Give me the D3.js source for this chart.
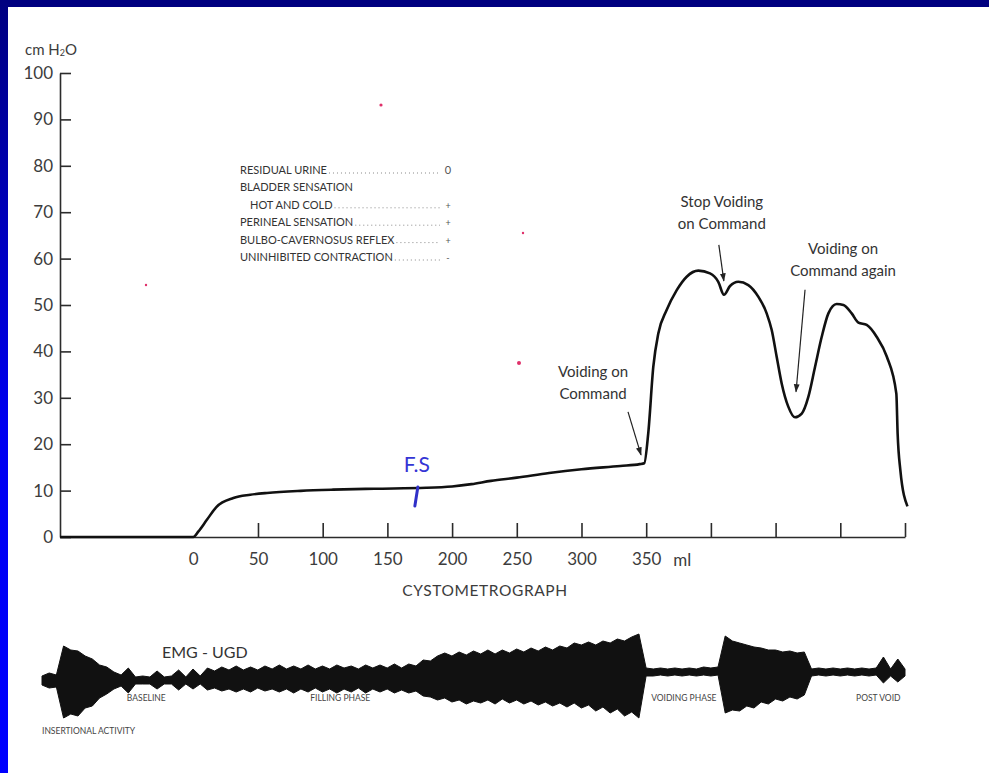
<!DOCTYPE html>
<html><head><meta charset="utf-8">
<script src="https://cdn.jsdelivr.net/npm/d3@7"></script>
<style>
html,body{margin:0;padding:0;background:#fff;overflow:hidden}
svg{display:block}
text{font-family:Lato,"Open Sans",sans-serif}
</style></head><body>
<svg id="c" width="989" height="773"></svg>
<script>
// ---------- DATA ----------
const yTicks = [0,10,20,30,40,50,60,70,80,90,100];
const xTickValues = [0,50,100,150,200,250,300,350,400,450,500,550];
const xTickLabels = ["0","50","100","150","200","250","300","350","","","",""];
const xUnit = "ml";
const yUnit = "cm H";
const xTitle = "CYSTOMETROGRAPH";

// cystometrogram: infused volume (ml) vs bladder pressure (cm H2O)
const volumeMl = [-103,-20,0,4,10.5,18,31,44,57,83,108,140,180,200,215,230,250,275,300,330,345,348.5,
  351.6,355.5,359.4,365.8,373.6,381.3,390.3,399.3,405.7,410.1,414.8,421.2,428.9,436.6,443.1,447,
  450.8,454.7,459.8,465,470.2,475.3,480.5,485.6,490.8,497.2,502.4,508.8,514,520.4,528.2,535.9,
  543.3,544.3,546.4,551.9];
const pressure = [0,0,0,1.2,3.7,6.5,8.4,9.1,9.5,9.95,10.2,10.4,10.6,10.9,11.4,12.1,12.8,13.8,14.6,15.3,15.7,15.9,
  22.4,36.7,43.9,48.9,53.2,56.1,57.4,56.8,55.0,52.2,54.1,55.0,54.3,51.8,48.2,44.6,
  38.9,33.1,28.1,25.8,26.6,30.2,36.7,43.1,48.2,50.2,50.0,48.2,46.2,45.7,43.1,38.9,
  30.9,22.3,14.4,6.6];

const checklistItems = ["RESIDUAL URINE","BLADDER SENSATION","HOT AND COLD","PERINEAL SENSATION","BULBO-CAVERNOSUS REFLEX","UNINHIBITED CONTRACTION"];
const checklistResults = ["0","","+","+","+","-"];
const checklistLevel = [0,0,1,0,0,0];

const annotationText = [["Voiding on","Command"],["Stop Voiding","on Command"],["Voiding on","Command again"]];
const annotationVolume = [346,410,465.8];
const annotationPressure = [17.7,55.2,31.3];

const handNote = "F.S";
const handNoteVolume = 172;

// EMG (urethral sphincter) envelope, one sample per second, arbitrary amplitude units
const emgTop = [1,4,2,31,27,26,21,18,12,10,5,2,9,0,1,0,6,0,1,7,0,8,1,9,6,10,7,11,7,10,
  7,11,8,12,8,11,8,12,8,11,8,12,9,11,8,12,9,12,9,13,9,13,11,17,16,21,24,21,25,22,
  26,23,27,23,27,24,28,25,29,26,30,27,31,29,34,32,35,32,36,34,38,36,40,43,9,8,9,8,9,8,
  9,8,10,9,10,41,36,34,32,30,29,27,27,25,26,24,25,8,9,8,9,8,9,8,9,8,9,20,8,18,8];
const emgBottom = [-8,-11,-10,-41,-37,-39,-31,-29,-21,-17,-12,-9,-16,-7,-7,-7,-12,-7,-7,-13,-7,-12,-7,-13,-11,-14,-12,-15,-12,-15,
  -11,-14,-12,-15,-12,-16,-12,-15,-11,-15,-12,-16,-12,-15,-11,-16,-12,-15,-12,-16,-13,-16,-14,-19,-20,-23,-21,-25,-23,-27,
  -24,-26,-23,-27,-22,-26,-23,-27,-24,-28,-25,-29,-26,-30,-26,-31,-28,-34,-30,-36,-32,-39,-35,-41,1,1,2,1,2,1,
  2,1,2,1,2,-36,-33,-34,-29,-31,-25,-27,-22,-24,-20,-22,-18,1,2,1,2,1,2,1,2,1,2,-6,1,-5,1];
const emgTitle = "EMG - UGD";
const emgPhaseLabels = ["INSERTIONAL ACTIVITY","BASELINE","FILLING PHASE","VOIDING PHASE","POST VOID"];
const emgPhaseTime = [0,11.8,37.3,84.7,113.2];
const emgPhaseRow = [2,1,1,1,1];

// ---------- DRAWING ----------
const svg = d3.select("#c");
const defs = svg.append("defs");
const g1 = defs.append("linearGradient").attr("id","lb").attr("x1",0).attr("y1",0).attr("x2",0).attr("y2",1);
g1.append("stop").attr("offset",0).attr("stop-color","#000080");
g1.append("stop").attr("offset",0.55).attr("stop-color","#0000f0");
g1.append("stop").attr("offset",1).attr("stop-color","#0000ff");
defs.append("marker").attr("id","ah").attr("viewBox","0 0 10 10").attr("refX",9).attr("refY",5)
  .attr("markerWidth",7).attr("markerHeight",7).attr("orient","auto")
  .append("path").attr("d","M0,1.5L10,5L0,8.5Z").attr("fill","#222");

svg.append("rect").attr("width",989).attr("height",773).attr("fill","#fff");
svg.append("rect").attr("x",0).attr("y",0).attr("width",989).attr("height",7).attr("fill","#000080");
svg.append("rect").attr("x",0).attr("y",0).attr("width",8).attr("height",773).attr("fill","url(#lb)");

const x = d3.scaleLinear().domain([-103,550]).range([60,905]);
const y = d3.scaleLinear().domain([0,100]).range([537,73]);

const ink = "#2b2b2b", txt = "#3c3c3c";

// Y axis
const yAx = svg.append("g").attr("transform","translate(60,0)")
  .call(d3.axisLeft(y).tickValues(yTicks).tickSizeInner(-11).tickSizeOuter(0).tickPadding(7));
yAx.select(".domain").attr("stroke",ink).attr("stroke-width",1.6);
yAx.selectAll(".tick line").attr("stroke",ink).attr("stroke-width",1.6);
yAx.selectAll(".tick text").attr("font-size",17).attr("fill",txt).attr("font-family","Lato,sans-serif");

// X axis
const xAx = svg.append("g").attr("transform","translate(0,537)")
  .call(d3.axisBottom(x).tickValues(xTickValues).tickFormat((d,i)=>xTickLabels[i])
    .tickSizeInner(-14).tickSizeOuter(0).tickPadding(16));
xAx.select(".domain").attr("stroke",ink).attr("stroke-width",1.6);
xAx.selectAll(".tick line").attr("stroke",ink).attr("stroke-width",1.6)
  .attr("opacity",(d)=>d===0?0:1);
xAx.selectAll(".tick text").attr("font-size",17).attr("fill",txt).attr("font-family","Lato,sans-serif");

svg.append("text").attr("x",x(350)+27).attr("y",566).attr("font-size",17).attr("fill",txt).text(xUnit);
svg.append("text").attr("x",485).attr("y",596).attr("text-anchor","middle").attr("font-size",15.5)
  .attr("letter-spacing",0.6).attr("fill",txt).text(xTitle);

const yl = svg.append("text").attr("x",25).attr("y",55).attr("font-size",15).attr("fill",txt);
yl.append("tspan").text(yUnit);
yl.append("tspan").attr("font-size",9).attr("dy",1).text("2");
yl.append("tspan").attr("dy",-1).text("O");

// curve
const line = d3.line().x((d,i)=>x(volumeMl[i])).y((d,i)=>y(pressure[i])).curve(d3.curveMonotoneX);
svg.append("path").datum(pressure).attr("d",line).attr("fill","none").attr("stroke","#111")
  .attr("stroke-width",2.6).attr("stroke-linejoin","round");

// checklist
const cl = svg.append("g");
checklistItems.forEach((t,i)=>{
  const yy = 174 + i*17.4;
  const tx = cl.append("text").attr("x",240+checklistLevel[i]*10).attr("y",yy).attr("font-size",11)
    .attr("fill","#333").text(t);
  if(checklistResults[i]!==""){
    const end = 240+checklistLevel[i]*10+tx.node().getComputedTextLength()+2;
    cl.append("line").attr("x1",end).attr("x2",440).attr("y1",yy-1).attr("y2",yy-1)
      .attr("stroke","#888").attr("stroke-width",1).attr("stroke-dasharray","1,3");
    cl.append("text").attr("x",448).attr("y",yy).attr("text-anchor","middle")
      .attr("font-size",checklistResults[i]==="0"?11:9).attr("fill","#555").text(checklistResults[i]);
  }
});

// annotations
const annOff = [{tx:-48,ty:-78,ax:-13,ay:-43,anchor:"middle"},
                {tx:-2,ty:-74,ax:-5,ay:-36,anchor:"middle"},
                {tx:47,ty:-138,ax:9,ay:-102,anchor:"middle"}];
annotationText.forEach((lines,i)=>{
  const px = x(annotationVolume[i]), py = y(annotationPressure[i]), o = annOff[i];
  svg.append("line").attr("x1",px+o.ax).attr("y1",py+o.ay).attr("x2",px).attr("y2",py)
    .attr("stroke","#222").attr("stroke-width",1.2).attr("marker-end","url(#ah)");
  lines.forEach((l,j)=>{
    svg.append("text").attr("x",px+o.tx).attr("y",py+o.ty+j*22).attr("text-anchor",o.anchor)
      .attr("font-size",15).attr("fill","#333").text(l);
  });
});

// handwritten note
svg.append("text").attr("x",x(handNoteVolume)+1).attr("y",472).attr("text-anchor","middle")
  .attr("font-family","'DejaVu Sans',sans-serif").attr("font-size",21).attr("fill","#3535d5").text(handNote);
svg.append("line").attr("x1",x(handNoteVolume)+2).attr("y1",487).attr("x2",x(handNoteVolume)-1).attr("y2",506)
  .attr("stroke","#3030c8").attr("stroke-width",3).attr("stroke-linecap","round");

// specks
[[381,105,1.6],[146,285,1.2],[523,233,1.2],[519,363,2]].forEach(s=>{
  svg.append("circle").attr("cx",s[0]).attr("cy",s[1]).attr("r",s[2]).attr("fill","#e0306a");
});

// EMG
const ex = d3.scaleLinear().domain([0,120]).range([42,905]);
const ey = d3.scaleLinear().domain([-50,50]).range([727,627]);
const area = d3.area().x((d,i)=>ex(i)).y0((d,i)=>ey(emgBottom[i])).y1((d,i)=>ey(emgTop[i])).curve(d3.curveLinear);
svg.append("path").datum(emgTop).attr("d",area).attr("fill","#111").attr("stroke","#111").attr("stroke-width",1);
svg.append("text").attr("x",162).attr("y",658).attr("font-size",16).attr("fill","#333").text(emgTitle);
emgPhaseLabels.forEach((l,i)=>{
  svg.append("text").attr("x",ex(emgPhaseTime[i])).attr("y",emgPhaseRow[i]===2?734:701)
    .attr("font-size",8.5).attr("fill","#444").text(l);
});
</script></body></html>
